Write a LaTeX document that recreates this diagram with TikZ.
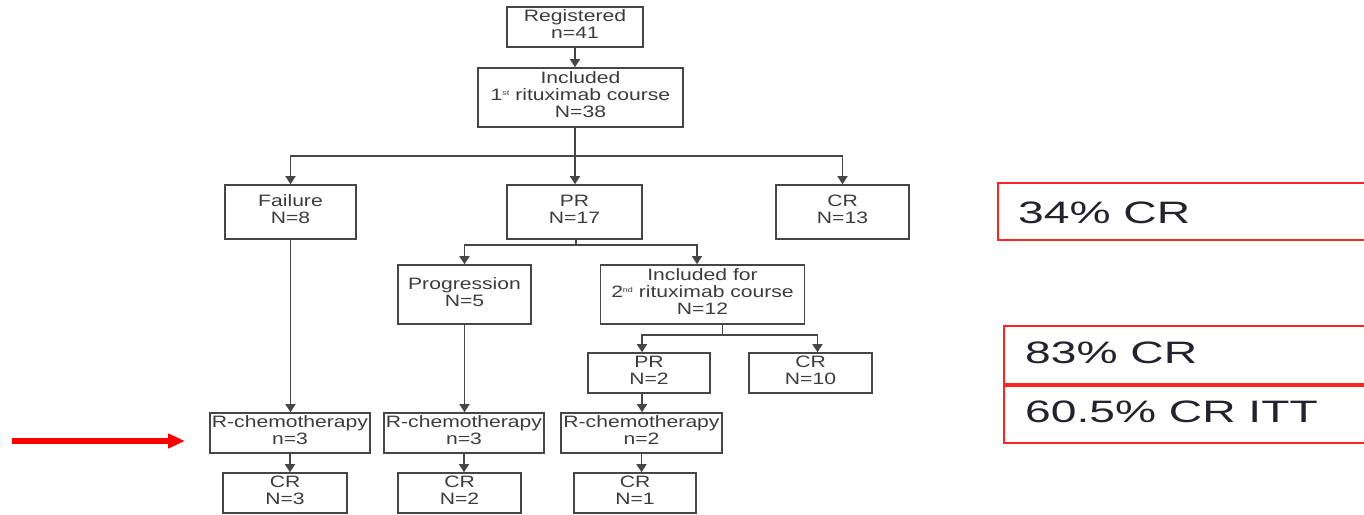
\documentclass[tikz,border=0pt]{standalone}
\usepackage{fontspec}
\setmainfont{Liberation Sans}
\usepackage{graphicx}
\usetikzlibrary{arrows.meta}
\definecolor{lncol}{RGB}{70,70,70}
\definecolor{txtcol}{RGB}{60,60,60}
\definecolor{rd}{RGB}{255,35,35}
\definecolor{rarrow}{RGB}{250,0,0}
\definecolor{dk}{RGB}{35,35,45}
\newcommand{\tx}[1]{\scalebox{1.28}[1]{\begin{tabular}{@{}c@{}}#1\end{tabular}}}
\newcommand{\sups}[1]{\raisebox{0.6ex}{\fontsize{7}{7}\selectfont #1}}
\newcommand{\rtx}[1]{\scalebox{1.49}[1]{#1}}
\begin{document}
\begin{tikzpicture}[x=1pt,y=-1pt,
  bx/.style 2 args={draw=lncol, line width=1.6pt, fill=white, inner sep=0pt,
    text=txtcol, font=\fontsize{16.5}{17}\selectfont,
    minimum width=#1pt, minimum height=#2pt},
  conn/.style={draw=lncol, line width=1.5pt},
  arr/.style={draw=lncol, line width=1.5pt, -{Triangle[width=10pt,length=8pt]}},
  redbox/.style={draw=rd, line width=2pt, inner sep=0pt, anchor=north west},
  rtext/.style={text=dk, font=\fontsize{31}{31}\selectfont, anchor=base west, inner sep=0pt}]
\useasboundingbox (0,0) rectangle (1364,514);

% boxes
\node[bx={136}{40}] (reg) at (575,27) {\tx{Registered\\n=41}};
\node[bx={205}{59}] (inc1) at (580.5,97.5) {\tx{Included\\1\sups{st} rituximab course\\N=38}};
\node[bx={131}{54}] (fail) at (290.5,212) {\tx{Failure\\N=8}};
\node[bx={135}{54}] (pr) at (574.5,212) {\tx{PR\\N=17}};
\node[bx={133}{54}] (cr) at (842.5,212) {\tx{CR\\N=13}};
\node[bx={133}{59}] (prog) at (464.5,294.5) {\tx{Progression\\N=5}};
\node[bx={204}{59}] (inc2) at (702.5,294.5) {\tx{Included for\\2\sups{nd} rituximab course\\N=12}};
\node[bx={122}{40}] (pr2) at (649,373) {\tx{PR\\N=2}};
\node[bx={123}{40}] (cr10) at (810.5,373) {\tx{CR\\N=10}};
\node[bx={160}{40}] (rc1) at (290,433) {\tx{R-chemotherapy\\n=3}};
\node[bx={160}{40}] (rc2) at (464,433) {\tx{R-chemotherapy\\n=3}};
\node[bx={161}{40}] (rc3) at (641.5,433) {\tx{R-chemotherapy\\n=2}};
\node[bx={124}{40}] (crA) at (285,493) {\tx{CR\\N=3}};
\node[bx={123}{40}] (crB) at (459.5,493) {\tx{CR\\N=2}};
\node[bx={122}{40}] (crC) at (635,493) {\tx{CR\\N=1}};

% connectors
\draw[arr] (reg.south) -- (reg.south |- inc1.north);
\coordinate (b1) at (575,156);
\draw[conn] (inc1.south -| b1) -- (b1);
\draw[arr] (b1) -| (fail.north);
\draw[arr] (b1) -| (cr.north);
\draw[arr] (b1) -- (b1 |- pr.north);
\coordinate (b2) at (576,245);
\draw[conn] (pr.south -| b2) -- (b2);
\draw[arr] (b2) -| (prog.north);
\draw[arr] (b2) -| ([xshift=-5.5pt]inc2.north);
\coordinate (b3) at (722.5,335);
\draw[conn] (inc2.south -| b3) -- (b3);
\draw[arr] (b3) -| ([xshift=-7pt]pr2.north);
\draw[arr] (b3) -| ([xshift=7pt]cr10.north);
\draw[arr] (fail.south) -- (fail.south |- rc1.north);
\draw[arr] (prog.south) -- (prog.south |- rc2.north);
\draw[arr] ([xshift=-7pt]pr2.south) -- ([xshift=-7pt]pr2.south |- rc3.north);
\draw[arr] (rc1.south) -- (rc1.south |- crA.north);
\draw[arr] (rc2.south) -- (rc2.south |- crB.north);
\draw[arr] (rc3.south) -- (rc3.south |- crC.north);

% red arrow
\coordinate (ra) at (12,441);
\coordinate (rb) at (185,441);
\draw[rarrow, line width=6.5pt, -{Triangle[width=14pt,length=17pt]}] (ra) -- (rb);

% red boxes
\node[redbox, minimum width=373pt, minimum height=57pt] (r1) at (997,182) {};
\node[rtext] (t1) at (1018,223) {\rtx{34\% CR}};
\node[redbox, minimum width=367pt, minimum height=58pt] (r2) at (1003,325) {};
\node[redbox, minimum width=367pt, minimum height=57pt] (r3) at (r2.south west) {};
\node[rtext] (t2) at (1025,363) {\rtx{83\% CR}};
\node[rtext] (t3) at (1025,422) {\rtx{60.5\% CR ITT}};
\end{tikzpicture}
\end{document}
